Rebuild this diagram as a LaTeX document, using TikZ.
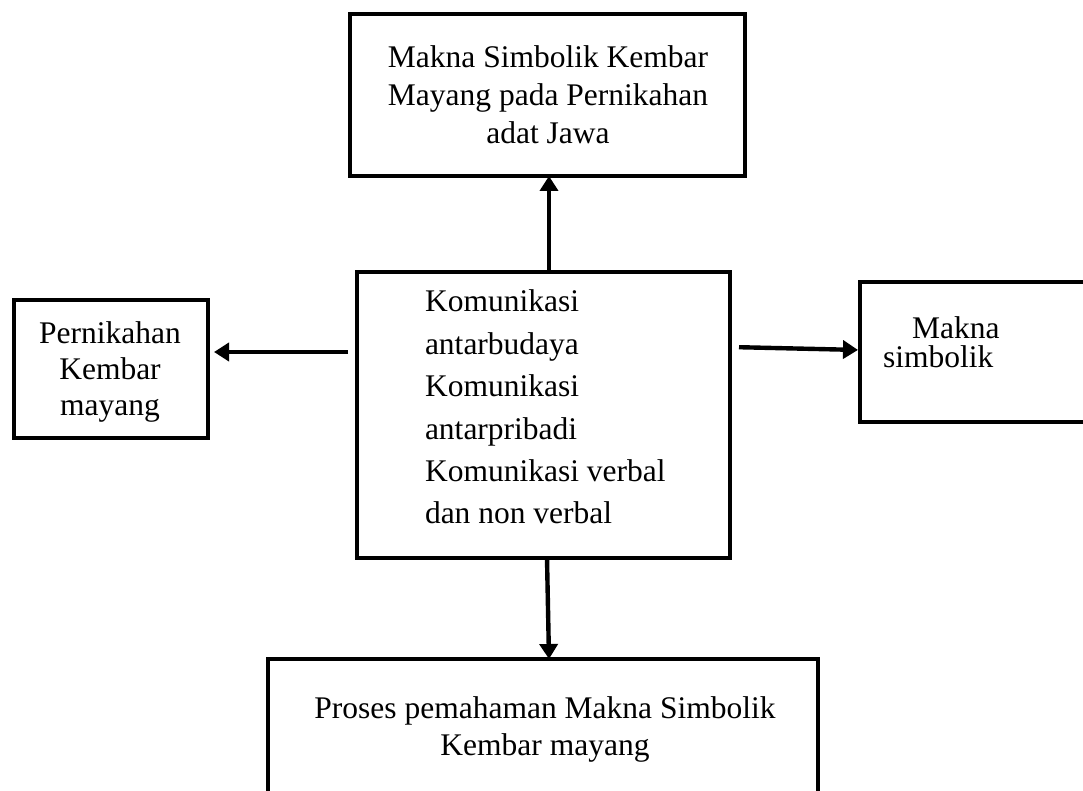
\documentclass[tikz,border=0pt]{standalone}
\usepackage{fontspec}
\setmainfont{Liberation Serif}
\usetikzlibrary{arrows.meta,calc}
\begin{document}
\begin{tikzpicture}[x=1pt,y=-1pt,
  box/.style={draw=black,line width=4.6pt,rectangle,inner sep=0pt,outer sep=0pt},
  txt/.style={inner sep=0pt,outer sep=0pt,font=\fontsize{31.5}{38}\selectfont},
  arr/.style={line width=4.4pt,-{Triangle[length=15pt,width=18pt]}}]
\useasboundingbox (0,0) rectangle (1083,791);
\fill[white] (0,0) rectangle (1083,791);
% boxes
\node[box,minimum width=395pt,minimum height=162pt] (top) at (547.5,95) {};
\node[box,minimum width=373pt,minimum height=286pt] (ctr) at (543.5,415) {};
\node[box,minimum width=194pt,minimum height=138pt] (left) at (111,369) {};
\node[box,minimum width=240pt,minimum height=140pt] (right) at (980,352) {};
\node[box,minimum width=550pt,minimum height=171pt] (bot) at (543,744.5) {};
% texts
\node[txt,anchor=base] (t1) at (548,68) {Makna Simbolik Kembar};
\node[txt,anchor=base] (t2) at (548,106) {Mayang pada Pernikahan};
\node[txt,anchor=base] (t3) at (548,144) {adat Jawa};
\node[txt,anchor=base west] (c1) at (425,312) {Komunikasi};
\node[txt,anchor=base west] (c2) at (425,354) {antarbudaya};
\node[txt,anchor=base west] (c3) at (425,396) {Komunikasi};
\node[txt,anchor=base west] (c4) at (425,439) {antarpribadi};
\node[txt,anchor=base west] (c5) at (425,481) {Komunikasi verbal};
\node[txt,anchor=base west] (c6) at (425,523) {dan non verbal};
\node[txt,anchor=base] (l1) at (110,343) {Pernikahan};
\node[txt,anchor=base] (l2) at (110,379) {Kembar};
\node[txt,anchor=base] (l3) at (110,415) {mayang};
\node[txt,anchor=base west] (r1) at (912,338) {Makna};
\node[txt,anchor=base west] (r2) at (883,367) {simbolik};
\node[txt,anchor=base] (b1) at (545,718) {Proses pemahaman Makna Simbolik};
\node[txt,anchor=base] (b2) at (545,755) {Kembar mayang};
% connector levels
\coordinate (tx) at (549,0);
\coordinate (lv) at (0,352);
\coordinate (rv1) at (0,347);
\coordinate (rv2) at (0,350);
\coordinate (bx1) at (547,0);
\coordinate (bx2) at (549,0);
% arrows
\draw[arr] (ctr.north -| tx) -- (top.south -| tx);
\draw[arr,shorten <=9pt,shorten >=6pt] (ctr.west |- lv) -- (left.east |- lv);
\draw[arr,shorten <=9pt,shorten >=2pt] (ctr.east |- rv1) -- (right.west |- rv2);
\draw[arr] (ctr.south -| bx1) -- (bot.north -| bx2);
\end{tikzpicture}
\end{document}
